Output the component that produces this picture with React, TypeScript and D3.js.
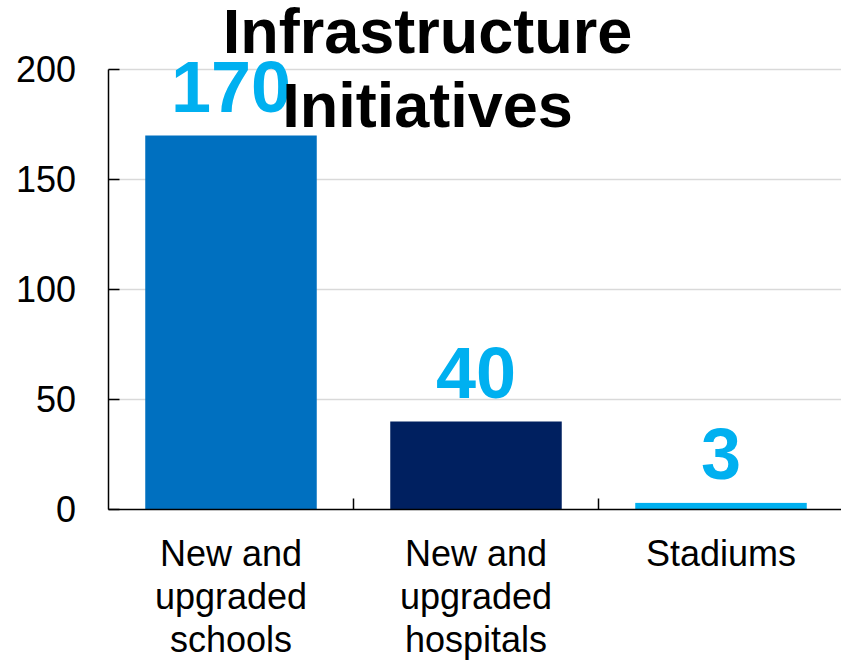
import React from "react";
import * as d3 from "d3";

const categories: string[][] = [
  ["New and", "upgraded", "schools"],
  ["New and", "upgraded", "hospitals"],
  ["Stadiums"],
];
const values: number[] = [170, 40, 3];
const barColors: string[] = ["#0070C0", "#002060", "#00B0F0"];
const yTicks: number[] = [0, 50, 100, 150, 200];
const titleLines: string[] = ["Infrastructure", "Initiatives"];

const W = 841;
const H = 660;
const FONT = "Liberation Sans, Arial, Helvetica, sans-serif";

export default function App() {
  const x0 = 108.5;
  const x1 = 843.5;
  const y0 = 509.5;
  const y1 = 69.5;

  const x = d3
    .scaleBand<number>()
    .domain(d3.range(values.length))
    .range([x0, x1])
    .paddingInner(0.3)
    .paddingOuter(0.15);
  const y = d3.scaleLinear().domain([0, 200]).range([y0, y1]);
  const catW = (x1 - x0) / values.length;

  return (
    <svg
      width={W}
      height={H}
      style={{ position: "absolute", left: 0, top: 0, background: "#fff" }}
      fontFamily={FONT}
    >
      {/* gridlines */}
      {yTicks.filter((t) => t > 0).map((t) => (
        <line key={"g" + t} x1={x0} x2={W} y1={y(t)} y2={y(t)} stroke="#D9D9D9" strokeWidth={1.5} />
      ))}
      {/* bars */}
      {values.map((v, i) => (
        <rect
          key={"b" + i}
          x={x(i)!}
          y={y(v)}
          width={x.bandwidth()}
          height={y0 - y(v)}
          fill={barColors[i]}
        />
      ))}
      {/* y axis */}
      <line x1={x0} x2={x0} y1={y1} y2={y0} stroke="#000" strokeWidth={1.5} />
      {yTicks.map((t) => (
        <g key={"t" + t}>
          <line x1={x0} x2={x0 + 11} y1={y(t)} y2={y(t)} stroke="#000" strokeWidth={1.5} />
          <text x={76} y={y(t)} dy="0.36em" textAnchor="end" fontSize={36} fill="#000">
            {t}
          </text>
        </g>
      ))}
      {/* x axis */}
      <line x1={x0} x2={W} y1={y0} y2={y0} stroke="#000" strokeWidth={1.5} />
      {d3.range(1, values.length).map((i) => (
        <line key={"xt" + i} x1={x0 + catW * i} x2={x0 + catW * i} y1={y0} y2={y0 - 11} stroke="#000" strokeWidth={1.5} />
      ))}
      {/* category labels */}
      {categories.map((lines, i) => (
        <text key={"c" + i} textAnchor="middle" fontSize={36} fill="#000">
          {lines.map((ln, j) => (
            <tspan key={j} x={x(i)! + x.bandwidth() / 2} y={566 + j * 43}>
              {ln}
            </tspan>
          ))}
        </text>
      ))}
      {/* data labels */}
      {values.map((v, i) => (
        <text
          key={"l" + i}
          x={x(i)! + x.bandwidth() / 2}
          y={y(v) - 24}
          textAnchor="middle"
          fontSize={72}
          fontWeight="bold"
          fill="#00B0F0"
        >
          {v}
        </text>
      ))}
      {/* title */}
      <text textAnchor="middle" fontSize={63} fontWeight="bold" fill="#000">
        {titleLines.map((ln, j) => (
          <tspan key={j} x={427.5} y={53 + j * 74}>
            {ln}
          </tspan>
        ))}
      </text>
    </svg>
  );
}
